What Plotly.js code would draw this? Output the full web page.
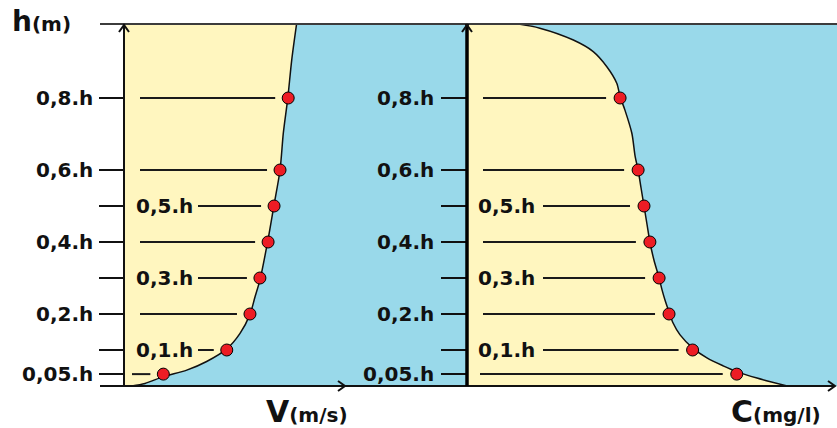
<!DOCTYPE html>
<html>
<head>
<meta charset="utf-8">
<script src="https://cdn.plot.ly/plotly-3.0.1.min.js"></script>
<style>html,body{margin:0;padding:0;background:#fff;}#chart{width:837px;height:428px;}</style>
</head>
<body>
<div id="chart"></div>
<script>
// ---- data ----
const levelLabels = ['0,05.h', '0,1.h', '0,2.h', '0,3.h', '0,4.h', '0,5.h', '0,6.h', '0,8.h'];
const levelH      = [0.033, 0.1, 0.2, 0.3, 0.4, 0.5, 0.6, 0.8];
const labelInside = [false, true, false, true, false, true, false, false];

// measured points (relative units along each horizontal axis)
const velocityAtLevel = [0.178, 0.465, 0.570, 0.615, 0.652, 0.679, 0.706, 0.743];
const concAtLevel     = [0.733, 0.613, 0.549, 0.522, 0.497, 0.481, 0.465, 0.416];

// velocity profile curve
const vProfileV = [0.035, 0.095, 0.178, 0.284, 0.374, 0.465, 0.525, 0.570, 0.593, 0.615, 0.650, 0.678, 0.706, 0.721, 0.741, 0.759, 0.781];
const vProfileH = [0.000, 0.007, 0.026, 0.044, 0.068, 0.103, 0.146, 0.199, 0.248, 0.294, 0.401, 0.500, 0.600, 0.703, 0.799, 0.906, 1.006];

// concentration profile curve
const cProfileC = [0.136, 0.198, 0.289, 0.343, 0.380, 0.407, 0.416, 0.429, 0.448, 0.457, 0.465, 0.473, 0.481, 0.489, 0.497, 0.508, 0.522, 0.530, 0.538, 0.549, 0.560, 0.579, 0.613, 0.652, 0.696, 0.733, 0.788, 0.870];
const cProfileH = [1.006, 0.994, 0.961, 0.929, 0.887, 0.841, 0.804, 0.767, 0.702, 0.637, 0.600, 0.550, 0.500, 0.450, 0.400, 0.350, 0.300, 0.267, 0.239, 0.206, 0.175, 0.142, 0.106, 0.078, 0.056, 0.040, 0.022, 0.000];

const yTitle = 'h';   const yUnit = '(m)';
const vTitle = 'V';   const vUnit = '(m/s)';
const cTitle = 'C';   const cUnit = '(mg/l)';

// ---- layout geometry (pixels) ----
const W = 837, H = 428, T = 24, B = 42;
const plotH = H - T - B;          // 362
const yMax = plotH / 360;         // h units
const L0 = 124, L1 = 345;         // left panel axis
const R0 = 467, R1 = 835;         // right panel axis
const px = x => x / W;
const py = y => (H - B - y) / plotH;

const YELLOW = '#FFF6BF', BLUE = '#99D9EA', RED = '#ED1C24', INK = '#111111';
const FONT = 'DejaVu Sans, Verdana, sans-serif';

const traces = [
  { x: vProfileV, y: vProfileH, xaxis: 'x', yaxis: 'y', mode: 'lines', fill: 'tozerox', fillcolor: YELLOW,
    line: { color: INK, width: 1.5, shape: 'spline', smoothing: 0.8 }, hoverinfo: 'skip', showlegend: false },
  { x: cProfileC, y: cProfileH, xaxis: 'x2', yaxis: 'y2', mode: 'lines', fill: 'tozerox', fillcolor: YELLOW,
    line: { color: INK, width: 1.5, shape: 'spline', smoothing: 0.8 }, hoverinfo: 'skip', showlegend: false },
  { x: velocityAtLevel, y: levelH, xaxis: 'x', yaxis: 'y', mode: 'markers',
    marker: { color: RED, size: 12, line: { color: '#000', width: 1 } }, showlegend: false, cliponaxis: false },
  { x: concAtLevel, y: levelH, xaxis: 'x2', yaxis: 'y2', mode: 'markers',
    marker: { color: RED, size: 12, line: { color: '#000', width: 1 } }, showlegend: false, cliponaxis: false }
];

const shapes = [];
const annotations = [];
// background water area
shapes.push({ type: 'rect', xref: 'paper', yref: 'paper', x0: px(L0), x1: 1, y0: 0, y1: 1,
  fillcolor: BLUE, line: { width: 0 }, layer: 'below' });

// guide lines at each level
const lw = L1 - L0, rw = R1 - R0;
levelH.forEach((h, i) => {
  shapes.push({ type: 'line', xref: 'x', yref: 'y',
    x0: (labelInside[i] ? 74 : (i === 0 ? 8 : 16)) / lw, x1: velocityAtLevel[i] - 13 / lw, y0: h, y1: h,
    line: { color: '#1a1a1a', width: 2 } });
  shapes.push({ type: 'line', xref: 'x2', yref: 'y2',
    x0: (labelInside[i] ? 76 : (i === 0 ? 13 : 16)) / rw, x1: concAtLevel[i] - 14 / rw, y0: h, y1: h,
    line: { color: '#1a1a1a', width: 2 } });
  const lab = '<b>' + levelLabels[i] + '</b>';
  const f = { family: FONT, size: 20, color: INK };
  annotations.push({ xref: 'paper', yref: 'y', x: px(labelInside[i] ? 134 : 95), y: h,
    xanchor: labelInside[i] ? 'left' : 'right', yanchor: 'middle', text: lab, showarrow: false, font: f });
  annotations.push({ xref: 'paper', yref: 'y2', x: px(labelInside[i] ? 476 : 436), y: h,
    xanchor: labelInside[i] ? 'left' : 'right', yanchor: 'middle', text: lab, showarrow: false, font: f });
});

// frame lines and axes
shapes.push({ type: 'line', xref: 'paper', yref: 'paper', x0: px(100), x1: 1, y0: 1, y1: 1, line: { color: '#3c3c3c', width: 2 } });
shapes.push({ type: 'line', xref: 'paper', yref: 'paper', x0: px(100), x1: px(R1), y0: 0, y1: 0, line: { color: '#111', width: 2 } });
shapes.push({ type: 'line', xref: 'paper', yref: 'paper', x0: px(L0), x1: px(L0), y0: 0, y1: 1, line: { color: '#111', width: 2 } });
shapes.push({ type: 'line', xref: 'paper', yref: 'paper', x0: px(R0), x1: px(R0), y0: 0, y1: 1, line: { color: '#000', width: 3.5 } });
function chevron(pts) {
  return { type: 'path', xref: 'paper', yref: 'paper',
    path: 'M' + pts.map(p => px(p[0]) + ',' + py(p[1])).join(' L'), line: { color: '#111', width: 2 } };
}
shapes.push(chevron([[L0 - 5, T + 8], [L0, T + 1], [L0 + 5, T + 8]]));
shapes.push(chevron([[R0 - 5, T + 8], [R0, T + 1], [R0 + 5, T + 8]]));
shapes.push(chevron([[L1 - 7, 381], [L1, 386], [L1 - 7, 391]]));
shapes.push(chevron([[R1 - 7, 381], [R1, 386], [R1 - 7, 391]]));

// axis titles
function title(x, y, big, unit, bigSize, unitSize) {
  return { xref: 'paper', yref: 'paper', x: px(x), y: py(y), xanchor: 'left', yanchor: 'middle', showarrow: false,
    text: '<b>' + big + '</b><span style="font-size:' + unitSize + 'px"><b>' + unit + '</b></span>',
    font: { family: FONT, size: bigSize, color: INK } };
}
annotations.push(title(10, 22, yTitle, yUnit, 28, 20));
annotations.push(title(264, 411, vTitle, vUnit, 30, 20));
annotations.push(title(729, 411, cTitle, cUnit, 30, 20));

const yax = {
  range: [0, yMax], tickmode: 'array', tickvals: levelH, ticks: 'outside', ticklen: 24, tickwidth: 2,
  tickcolor: '#111', showticklabels: false, showgrid: false, zeroline: false, showline: false, fixedrange: true
};
const layout = {
  width: W, height: H, margin: { l: 0, r: 0, t: T, b: B },
  paper_bgcolor: '#fff', plot_bgcolor: 'rgba(0,0,0,0)', showlegend: false,
  xaxis: { domain: [px(L0), px(L1)], range: [0, 1], visible: false },
  xaxis2: { domain: [px(R0), px(R1)], range: [0, 1], visible: false },
  yaxis: Object.assign({}, yax, { anchor: 'x' }),
  yaxis2: Object.assign({}, yax, { anchor: 'x2', ticklen: 25 }),
  shapes: shapes, annotations: annotations
};
Plotly.newPlot('chart', traces, layout, { staticPlot: true, displayModeBar: false });
</script>
</body>
</html>
